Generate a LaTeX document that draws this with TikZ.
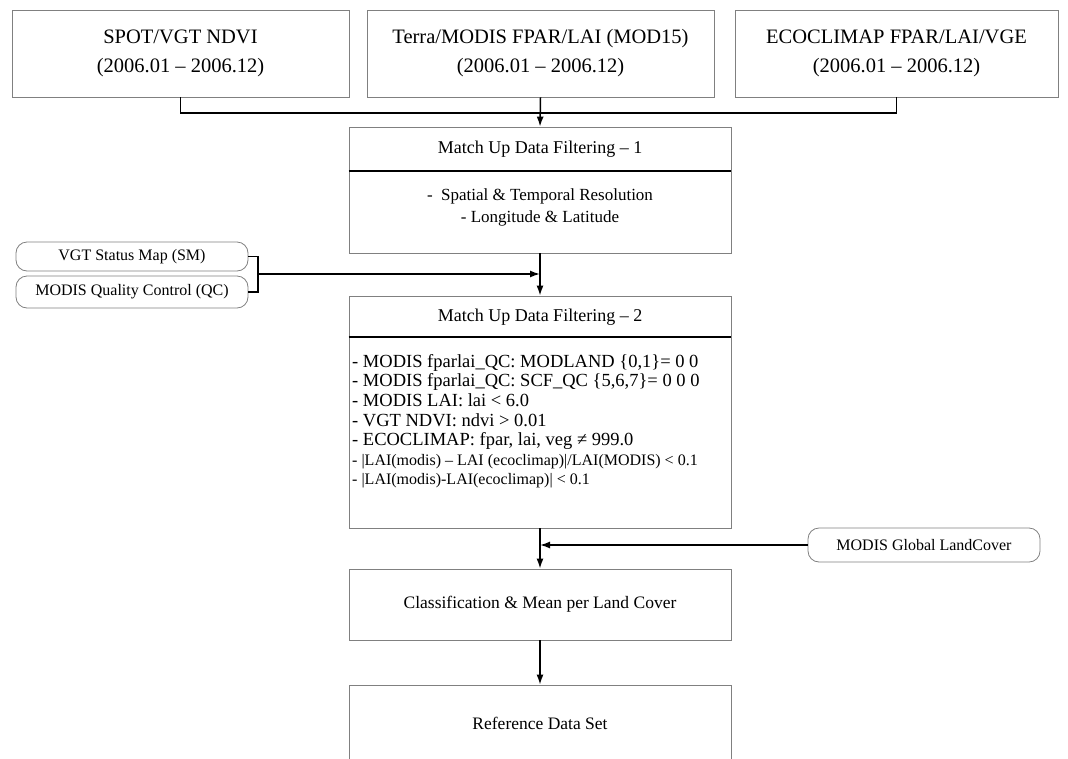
\documentclass[tikz,border=0pt]{standalone}
\usepackage{fontspec}
\setmainfont{Liberation Serif}
\usetikzlibrary{arrows.meta,calc}
\begin{document}
\begin{tikzpicture}[x=1pt,y=-1pt,
  box/.style={draw=black!50, line width=0.8pt, inner sep=0pt},
  rbox/.style={box, rounded corners=11pt},
  conn/.style={line width=1.5pt},
  thinconn/.style={line width=1.1pt},
  arr/.style={conn,-{Latex[length=10pt,width=7pt]}},
  divider/.style={line width=1.2pt},
  toptext/.style={font=\fontsize{20.5}{29}\selectfont, align=center},
  titletext/.style={font=\fontsize{18}{22}\selectfont},
  bodytext/.style={font=\fontsize{17}{22}\selectfont, align=center},
  smalltext/.style={font=\fontsize{16}{20}\selectfont},
]
\useasboundingbox (0,0) rectangle (1068,758);

% top sources
\node[box, minimum width=337pt, minimum height=87pt, toptext] (b1) at (180.5,53.5) {SPOT/VGT NDVI\\(2006.01 – 2006.12)};
\node[box, minimum width=347pt, minimum height=87pt, toptext] (b2) at (540.5,53.5) {Terra/MODIS FPAR/LAI (MOD15)\\(2006.01 – 2006.12)};
\node[box, minimum width=323pt, minimum height=87pt, toptext] (b3) at (896.5,53.5) {ECOCLIMAP FPAR/LAI/VGE\\(2006.01 – 2006.12)};

% filtering 1
\node[box, minimum width=382pt, minimum height=126pt] (m1) at (540,190) {};
\node[titletext] (m1t) at (540,149) {Match Up Data Filtering – 1};
\coordinate (d1) at (540,171);
\draw[divider] (m1.west |- d1) -- (m1.east |- d1);
\node[bodytext] (m1b) at (540,207) {- \ Spatial \& Temporal Resolution\\- Longitude \& Latitude};

\coordinate (jy) at (540,113);
\draw[conn] (b1.south) -- (b1.south |- jy) -- (b3.south |- jy) -- (b3.south);
\draw[arr] (b2.south) -- (m1.north);

% quality inputs
\node[rbox, minimum width=232pt, minimum height=29pt, smalltext] (sm) at (132,256.5) {VGT Status Map (SM)};
\node[rbox, minimum width=232pt, minimum height=32pt, smalltext] (qc) at (132,292) {MODIS Quality Control (QC)};
\coordinate (br) at (258,274);
\draw[thinconn] (sm.east) -- (sm.east -| br) -- (qc.east -| br) -- (qc.east);

% filtering 2
\node[box, minimum width=382pt, minimum height=232pt] (m2) at (540,412) {};
\node[titletext] (m2t) at (540,317) {Match Up Data Filtering – 2};
\coordinate (d2) at (540,337);
\draw[divider] (m2.west |- d2) -- (m2.east |- d2);
\node[anchor=north west, align=left, inner sep=0pt, font=\fontsize{18.5}{19.6}\selectfont] (m2b) at (352,354) {- MODIS fparlai\_QC: MODLAND \{0,1\}= 0 0\\
- MODIS fparlai\_QC: SCF\_QC \{5,6,7\}= 0 0 0\\
- MODIS LAI: lai < 6.0\\
- VGT NDVI: ndvi > 0.01\\
- ECOCLIMAP: fpar, lai, veg ≠ 999.0\\
\fontsize{16}{19.6}\selectfont - |LAI(modis) – LAI (ecoclimap)|/LAI(MODIS) < 0.1\\
\fontsize{16}{19.6}\selectfont - |LAI(modis)-LAI(ecoclimap)| < 0.1};

\draw[arr] (br) -- (m1.south |- br);
\draw[arr] (m1.south) -- (m2.north);

% land cover
\node[rbox, minimum width=232pt, minimum height=34pt, smalltext] (lc) at (924,545) {MODIS Global LandCover};
\node[box, minimum width=382pt, minimum height=71pt, font=\fontsize{17.5}{22}\selectfont] (m3) at (540,604.5) {Classification \& Mean per Land Cover};
\draw[arr] (lc.west) -- (m2.south |- lc.west);
\draw[arr] (m2.south) -- (m3.north);

% reference
\node[box, minimum width=382pt, minimum height=76pt, font=\fontsize{17.5}{22}\selectfont] (m4) at (540,723) {Reference Data Set};
\draw[arr] (m3.south) -- (m4.north);
\end{tikzpicture}
\end{document}
